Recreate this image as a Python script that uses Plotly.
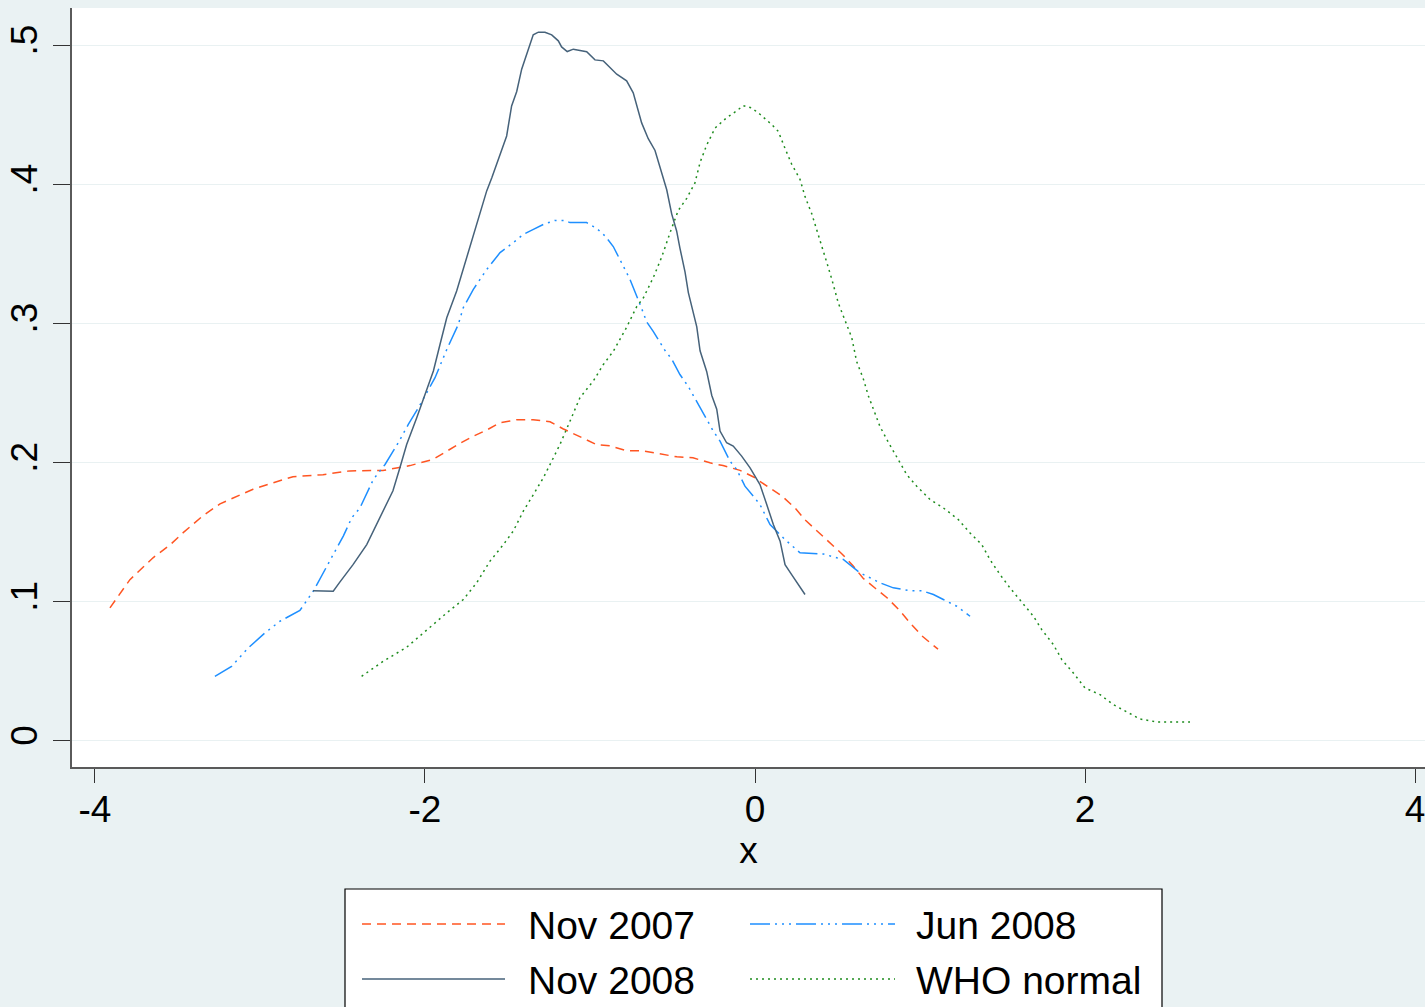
import plotly.graph_objects as go

# ---------------- data ----------------
nov2007_x = [-3.909, -3.788, -3.648, -3.545, -3.467, -3.345, -3.242, -3.139, -3.042, -2.921,
             -2.800, -2.618, -2.455, -2.255, -2.091, -1.952, -1.867, -1.788, -1.709, -1.624,
             -1.545, -1.442, -1.345, -1.242, -1.164, -1.061, -0.958, -0.879, -0.776, -0.679,
             -0.576, -0.473, -0.376, -0.273, -0.194, -0.091, -0.012, 0.073, 0.164, 0.242,
             0.303, 0.376, 0.455, 0.527, 0.594, 0.655, 0.727, 0.800, 0.879, 0.939,
             1.012, 1.091, 1.109]
nov2007_y = [0.0957, 0.116, 0.1317, 0.141, 0.1496, 0.162, 0.1705, 0.176, 0.181, 0.1856,
             0.190, 0.1915, 0.1942, 0.1945, 0.198, 0.2024, 0.2086, 0.214, 0.219, 0.2237,
             0.2288, 0.231, 0.231, 0.2295, 0.2245, 0.2187, 0.213, 0.2122, 0.2086, 0.2086,
             0.2065, 0.2043, 0.2036, 0.200, 0.198, 0.1946, 0.190, 0.1835, 0.176, 0.1676,
             0.159, 0.151, 0.1424, 0.1345, 0.126, 0.117, 0.110, 0.103, 0.0935, 0.085,
             0.0755, 0.068, 0.066]

jun2008_x = [-3.273, -3.172, -3.071, -2.970, -2.879, -2.758, -2.677, -2.616, -2.556, -2.495,
             -2.444, -2.394, -2.313, -2.242, -2.162, -2.101, -2.040, -1.939, -1.868, -1.798,
             -1.768, -1.707, -1.626, -1.545, -1.465, -1.404, -1.343, -1.283, -1.212, -1.152,
             -1.121, -1.020, -0.960, -0.909, -0.859, -0.818, -0.758, -0.697, -0.656, -0.616,
             -0.576, -0.545, -0.505, -0.455, -0.404, -0.344, -0.309, -0.253, -0.212, -0.152,
             -0.111, -0.061, -0.010, 0.030, 0.091, 0.182, 0.273, 0.344, 0.414, 0.495,
             0.535, 0.636, 0.758, 0.838, 0.939, 1.010, 1.081, 1.141, 1.222, 1.303]
jun2008_y = [0.0465, 0.0537, 0.0669, 0.0777, 0.0861, 0.0938, 0.1077, 0.1209, 0.134, 0.1473,
             0.1604, 0.1676, 0.188, 0.1988, 0.2144, 0.2276, 0.2396, 0.2612, 0.2815, 0.2995,
             0.3115, 0.3247, 0.339, 0.3511, 0.3583, 0.3642, 0.3678, 0.3714, 0.3743, 0.3743,
             0.3727, 0.3727, 0.3686, 0.3631, 0.3555, 0.3455, 0.332, 0.314, 0.3012, 0.2943,
             0.287, 0.2807, 0.2746, 0.2635, 0.2548, 0.2425, 0.2348, 0.2228, 0.2156, 0.2012,
             0.1952, 0.1832, 0.176, 0.170, 0.1556, 0.1448, 0.1353, 0.1348, 0.1345, 0.1317,
             0.1305, 0.1209, 0.1137, 0.1101, 0.1081, 0.1081, 0.1053, 0.1017, 0.0969, 0.0897]

nov2008_x = [-2.679, -2.556, -2.515, -2.436, -2.353, -2.273, -2.194, -2.152, -2.111, -2.050,
             -1.990, -1.949, -1.909, -1.868, -1.808, -1.747, -1.707, -1.667, -1.626, -1.595,
             -1.505, -1.475, -1.444, -1.414, -1.384, -1.364, -1.344, -1.313, -1.273, -1.232,
             -1.192, -1.172, -1.138, -1.101, -1.061, -1.020, -0.970, -0.919, -0.879, -0.838,
             -0.778, -0.738, -0.687, -0.647, -0.606, -0.565, -0.535, -0.505, -0.475, -0.455,
             -0.424, -0.404, -0.374, -0.353, -0.333, -0.293, -0.262, -0.232, -0.212, -0.172,
             -0.132, -0.081, -0.030, 0.030, 0.071, 0.111, 0.152, 0.182, 0.222, 0.273,
             0.303]
nov2008_y = [0.108, 0.1077, 0.1144, 0.1268, 0.1412, 0.1604, 0.1799, 0.1964, 0.2132, 0.2324,
             0.2516, 0.266, 0.2851, 0.3043, 0.3235, 0.3475, 0.3619, 0.3786, 0.3955, 0.405,
             0.435, 0.4566, 0.467, 0.483, 0.494, 0.502, 0.5077, 0.5096, 0.5096, 0.5077,
             0.5034, 0.499, 0.4957, 0.4974, 0.4966, 0.4955, 0.4897, 0.489, 0.4842, 0.4794,
             0.4746, 0.466, 0.4444, 0.433, 0.4246, 0.4086, 0.3963, 0.379, 0.3667, 0.3544,
             0.3371, 0.3224, 0.3076, 0.2977, 0.2805, 0.2657, 0.2484, 0.2386, 0.2228, 0.2144,
             0.212, 0.2048, 0.1964, 0.1844, 0.170, 0.1556, 0.1437, 0.1268, 0.1196, 0.110,
             0.1053]

who_x = [-2.384, -2.253, -2.111, -1.990, -1.868, -1.768, -1.687, -1.606, -1.525, -1.465,
         -1.404, -1.343, -1.283, -1.232, -1.182, -1.121, -1.061, -0.980, -0.919, -0.859,
         -0.778, -0.717, -0.677, -0.616, -0.565, -0.515, -0.465, -0.414, -0.364, -0.333,
         -0.293, -0.242, -0.172, -0.111, -0.071, -0.020, 0.030, 0.101, 0.141, 0.182,
         0.222, 0.273, 0.303, 0.344, 0.374, 0.404, 0.434, 0.465, 0.505, 0.545,
         0.586, 0.616, 0.656, 0.687, 0.727, 0.758, 0.808, 0.868, 0.919, 0.980,
         1.061, 1.141, 1.232, 1.303, 1.374, 1.424, 1.485, 1.545, 1.616, 1.687,
         1.738, 1.808, 1.859, 1.929, 2.000, 2.091, 2.172, 2.262, 2.333, 2.435,
         2.535, 2.636]
who_y = [0.0465, 0.0573, 0.0674, 0.080, 0.0921, 0.1017, 0.1137, 0.1293, 0.1412, 0.1509,
         0.1653, 0.1772, 0.1892, 0.2012, 0.2132, 0.230, 0.2468, 0.2588, 0.2707, 0.2802,
         0.2975, 0.3123, 0.3185, 0.3333, 0.3481, 0.3654, 0.3815, 0.3901, 0.4012, 0.416,
         0.4284, 0.4407, 0.4481, 0.4531, 0.4568, 0.4551, 0.4506, 0.4432, 0.4383, 0.426,
         0.4148, 0.4037, 0.3914, 0.379, 0.3679, 0.3568, 0.3444, 0.3321, 0.3148, 0.3025,
         0.2901, 0.2728, 0.2605, 0.2481, 0.2358, 0.2259, 0.2148, 0.2024, 0.1916, 0.1832,
         0.1736, 0.1676, 0.1592, 0.1496, 0.1412, 0.1304, 0.1196, 0.1101, 0.100, 0.0897,
         0.080, 0.0693, 0.0585, 0.0489, 0.0381, 0.0333, 0.0261, 0.0201, 0.0158, 0.0137,
         0.0137, 0.0137]

x_ticks = [-4, -2, 0, 2, 4]
x_ticklabels = ["-4", "-2", "0", "2", "4"]
y_ticks = [0, 0.1, 0.2, 0.3, 0.4, 0.5]
y_ticklabels = ["0", ".1", ".2", ".3", ".4", ".5"]

series = [
    ("Nov 2007", nov2007_x, nov2007_y, "#FF5522", "9px,6px"),
    ("Jun 2008", jun2008_x, jun2008_y, "#1E8FFF", "20px,5px,2px,5px,2px,5px,2px,5px"),
    ("Nov 2008", nov2008_x, nov2008_y, "#46627A", "solid"),
    ("WHO normal", who_x, who_y, "#1E8C1E", "2px,4px"),
]

FONT = "Liberation Sans, Arial, sans-serif"
BG = "#EAF2F3"

fig = go.Figure()
for name, xs, ys, col, dash in series:
    fig.add_trace(go.Scatter(x=xs, y=ys, mode="lines", name=name,
                             line=dict(color=col, width=1.5, dash=dash),
                             showlegend=False))

# ---- manual legend (Stata style) ----
W, H = 1425, 1007
ml, mr, mt, mb = 72, 0, 8, 240
pw, ph = W - ml - mr, H - mt - mb


def px(xp):
    return (xp - ml) / pw


def py(yp):
    return (H - mb - yp) / ph


shapes = [dict(type="rect", xref="paper", yref="paper",
               x0=px(345), x1=px(1162), y0=py(1030), y1=py(889),
               fillcolor="white", line=dict(color="black", width=1.2), layer="below")]
annotations = []
legend_pos = [(362, 505, 526, 924), (750, 895, 914, 924), (362, 505, 526, 979), (750, 895, 914, 979)]
for (lx0, lx1, tx, ly), idx in zip(legend_pos, [0, 1, 2, 3]):
    name, _, _, col, dash = series[idx]
    shapes.append(dict(type="line", xref="paper", yref="paper",
                       x0=px(lx0), x1=px(lx1), y0=py(ly), y1=py(ly),
                       line=dict(color=col, width=1.5, dash=dash)))
    annotations.append(dict(text=name, xref="paper", yref="paper", x=px(tx), y=py(ly + 1),
                            xanchor="left", yanchor="middle", showarrow=False,
                            font=dict(family=FONT, size=39, color="black")))

fig.update_layout(
    width=W, height=H,
    margin=dict(l=ml, r=mr, t=mt, b=mb, pad=0),
    paper_bgcolor=BG, plot_bgcolor="white",
    showlegend=False,
    shapes=shapes, annotations=annotations,
    font=dict(family=FONT, size=37, color="black"),
    xaxis=dict(range=[-4.139, 4.06], tickmode="array", tickvals=x_ticks, ticktext=x_ticklabels,
               showgrid=False, zeroline=False, showline=True, linecolor="#5A5A5A", linewidth=1.5,
               ticks="outside", ticklen=14, tickwidth=1.2, tickcolor="#333333",
               tickfont=dict(size=37, family=FONT), ticklabelstandoff=-5,
               ticklabeloverflow="allow", automargin=False,
               title=dict(text="x", font=dict(size=37, family=FONT), standoff=0)),
    yaxis=dict(range=[-0.0187, 0.527], tickmode="array", tickvals=y_ticks, ticktext=y_ticklabels,
               showgrid=True, gridcolor="#E9F1F2", gridwidth=1.2, zeroline=False,
               showline=True, linecolor="#5A5A5A", linewidth=1.5,
               ticks="outside", ticklen=17, tickwidth=1.2, tickcolor="#333333",
               tickangle=-90, tickfont=dict(size=37, family=FONT), ticklabelstandoff=1,
               ticklabeloverflow="allow", automargin=False),
)

fig.write_html("out.html")
